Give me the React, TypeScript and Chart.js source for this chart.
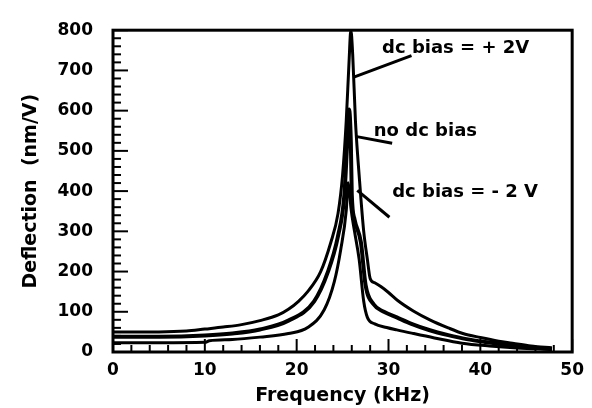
import React, { useEffect, useRef } from "react";
import { Chart, registerables } from "chart.js";

Chart.register(...registerables);

// ---- Data ----
const freqPlus2 = [0, 5, 8, 10, 12, 14, 16, 18, 19.1, 20.2, 21.2, 22.6, 23.7, 24.5, 25.0, 25.4, 25.7, 25.9, 26.1, 26.4, 26.7, 27.0, 27.3, 27.7, 28.0, 28.5, 29.2, 30.0, 31.0, 32.7, 34.5, 36.5, 38.1, 40, 42, 43.5, 45.5, 47.8];
const deflPlus2 = [50, 50, 52, 57, 62, 68, 78, 92, 106, 126, 150, 199, 271, 344, 440, 575, 720, 800, 740, 575, 470, 380, 300, 230, 183, 172, 162, 148, 128, 102, 80, 60, 46, 36, 27, 22, 15, 10];

const freqNoBias = [0, 5, 10, 13, 16, 19.1, 21.9, 23.4, 24.5, 25.2, 25.5, 25.7, 25.9, 26.0, 26.3, 27.0, 27.5, 28.4, 29.5, 30.9, 32.5, 34.5, 36.5, 38.5, 40.5, 43, 45.5, 47.8];
const deflNoBias = [38, 38, 41, 46, 56, 78, 126, 199, 288, 392, 520, 603, 520, 392, 330, 272, 167, 118, 100, 86, 70, 54, 42, 32, 25, 18, 12, 8];

const freqMinus2 = [0, 5, 10, 10.5, 13, 16, 19.1, 21.2, 23.0, 24.1, 24.8, 25.4, 25.6, 25.75, 25.9, 26.3, 26.8, 27.3, 27.7, 28.5, 29.8, 30.9, 32.7, 35, 38, 41, 44, 47.8];
const deflMinus2 = [23, 23, 24, 28, 31, 37, 46, 61, 105, 175, 255, 352, 421, 400, 360, 300, 231, 126, 86, 70, 61, 55, 46, 35, 22, 15, 10, 6];

const seriesNames = ["dc bias = + 2V", "no dc bias", "dc bias = - 2 V"];

// annotation labels (data coordinates)
const annoText = ["dc bias = + 2V", "no dc bias", "dc bias = - 2 V"];
const annoX = [29.3, 28.4, 30.4];
const annoY = [754, 548, 398];
const leaderX1 = [26.3, 26.4, 26.6];
const leaderY1 = [684, 536, 402];
const leaderX2 = [32.5, 30.4, 30.1];
const leaderY2 = [737, 519, 335];

const xMin = 0, xMax = 50, xStep = 10, xMinorStep = 2;
const yMin = 0, yMax = 800, yStep = 100, yMinorStep = 20;

const FONT = "'DejaVu Sans', 'Liberation Sans', Arial, sans-serif";

function zip(xs: number[], ys: number[]) {
  return xs.map((x, i) => ({ x, y: ys[i] }));
}

const decorPlugin = {
  id: "decor",
  afterDatasetsDraw(chart: any) {
    const { ctx, chartArea: a, scales } = chart;
    const x = scales.x;
    const y = scales.y;
    ctx.save();
    ctx.strokeStyle = "#000";
    ctx.lineCap = "butt";
    ctx.lineWidth = 2;
    // inward ticks on bottom
    for (let v = xMin; v <= xMax + 1e-9; v += xMinorStep) {
      const px = x.getPixelForValue(v);
      const len = Math.abs(v % xStep) < 1e-9 ? 13 : 7;
      ctx.beginPath();
      ctx.moveTo(px, a.bottom);
      ctx.lineTo(px, a.bottom - len);
      ctx.stroke();
    }
    // inward ticks on left
    for (let v = yMin; v <= yMax + 1e-9; v += yMinorStep) {
      const py = y.getPixelForValue(v);
      const len = Math.abs(v % yStep) < 1e-9 ? 15 : 8;
      ctx.beginPath();
      ctx.moveTo(a.left, py);
      ctx.lineTo(a.left + len, py);
      ctx.stroke();
    }
    // frame
    ctx.lineWidth = 3;
    ctx.strokeRect(a.left, a.top, a.right - a.left, a.bottom - a.top);
    // leader lines
    ctx.lineWidth = 3;
    for (let i = 0; i < annoText.length; i++) {
      ctx.beginPath();
      ctx.moveTo(x.getPixelForValue(leaderX1[i]), y.getPixelForValue(leaderY1[i]));
      ctx.lineTo(x.getPixelForValue(leaderX2[i]), y.getPixelForValue(leaderY2[i]));
      ctx.stroke();
    }
    // labels
    ctx.fillStyle = "#000";
    ctx.font = `bold 18px ${FONT}`;
    ctx.textAlign = "left";
    ctx.textBaseline = "middle";
    for (let i = 0; i < annoText.length; i++) {
      ctx.fillText(annoText[i], x.getPixelForValue(annoX[i]), y.getPixelForValue(annoY[i]));
    }
    ctx.restore();
  },
};

export default function App() {
  const canvasRef = useRef<HTMLCanvasElement | null>(null);

  useEffect(() => {
    const canvas = canvasRef.current;
    if (!canvas) return;
    const tickFont = { family: FONT, size: 17, weight: "bold" as const };
    const titleFont = { family: FONT, size: 19, weight: "bold" as const };
    const chart = new Chart(canvas, {
      type: "line",
      data: {
        datasets: [
          {
            label: seriesNames[0],
            data: zip(freqPlus2, deflPlus2),
            borderColor: "#000",
            borderWidth: 3,
            pointRadius: 0,
            fill: false,
          },
          {
            label: seriesNames[1],
            data: zip(freqNoBias, deflNoBias),
            borderColor: "#000",
            borderWidth: 4,
            pointRadius: 0,
            fill: false,
          },
          {
            label: seriesNames[2],
            data: zip(freqMinus2, deflMinus2),
            borderColor: "#000",
            borderWidth: 3,
            pointRadius: 0,
            fill: false,
          },
        ],
      },
      options: {
        responsive: false,
        animation: false,
        layout: { padding: { top: 21, right: 15, left: 0, bottom: 0 } },
        plugins: {
          legend: { display: false },
          tooltip: { enabled: false },
        },
        elements: {
          point: { radius: 0 },
          line: { cubicInterpolationMode: "monotone" },
        },
        scales: {
          x: {
            type: "linear",
            min: xMin,
            max: xMax,
            afterFit: (s: any) => {
              s.height = 56;
            },
            ticks: {
              stepSize: xStep,
              color: "#000",
              font: tickFont,
              padding: 8,
              maxRotation: 0,
            },
            grid: { display: false, drawTicks: false },
            border: { display: false },
            title: {
              display: true,
              text: "Frequency (kHz)",
              color: "#000",
              font: titleFont,
              padding: { top: 0, bottom: 1 },
            },
          },
          y: {
            type: "linear",
            min: yMin,
            max: yMax,
            afterFit: (s: any) => {
              s.width = 113;
            },
            ticks: {
              stepSize: yStep,
              color: "#000",
              font: tickFont,
              padding: 20,
            },
            grid: { display: false, drawTicks: false },
            border: { display: false },
            title: {
              display: true,
              text: "Deflection  (nm/V)",
              color: "#000",
              font: titleFont,
              padding: { top: 20, bottom: 0 },
            },
          },
        },
      },
      plugins: [decorPlugin],
    });
    return () => chart.destroy();
  }, []);

  return (
    <div style={{ position: "fixed", left: 0, top: 0, width: 592, height: 408, background: "#fff" }}>
      <canvas ref={canvasRef} width={592} height={408} style={{ display: "block" }} />
    </div>
  );
}
